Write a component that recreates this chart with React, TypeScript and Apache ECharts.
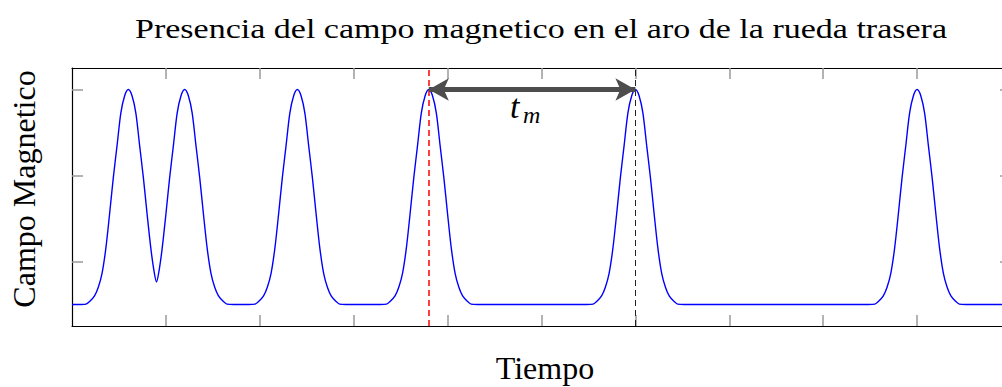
import React, { useEffect, useRef } from "react";
import * as echarts from "echarts";

// Tick positions (no tick labels are printed)
const tiempoTicks = [1, 2, 3, 4, 5, 6, 7, 8, 9];
const campoTicks = [0.2, 0.6, 1.0];

// Sensor signal: flat baseline with magnetic pulses, [tiempo, campo]
const reposoInicial: [number, number][] = [[0, 0], [0.1, 0]];
const pulsoDoble: [number, number][] = [
  [0.15, 0.002], [0.19, 0.015], [0.24, 0.04], [0.28, 0.08], [0.32, 0.145], [0.36, 0.26],
  [0.40, 0.42], [0.44, 0.59], [0.48, 0.74], [0.52, 0.89], [0.56, 0.97], [0.60, 1.0],
  [0.64, 0.97], [0.68, 0.89], [0.72, 0.74], [0.76, 0.59], [0.80, 0.42], [0.84, 0.26],
  [0.87, 0.165], [0.90, 0.105], [0.93, 0.165], [0.96, 0.26], [1.00, 0.42], [1.04, 0.59],
  [1.08, 0.74], [1.12, 0.89], [1.16, 0.97], [1.20, 1.0], [1.24, 0.97], [1.28, 0.89],
  [1.32, 0.74], [1.36, 0.59], [1.40, 0.42], [1.44, 0.26], [1.48, 0.145], [1.52, 0.08],
  [1.56, 0.04], [1.61, 0.015], [1.65, 0.002], [1.72, 0],
];
const pulso2: [number, number][] = [
  [1.88, 0], [1.95, 0.002], [1.99, 0.015], [2.04, 0.04], [2.08, 0.08], [2.12, 0.145],
  [2.16, 0.26], [2.20, 0.42], [2.24, 0.59], [2.28, 0.74], [2.32, 0.89], [2.36, 0.97],
  [2.40, 1.0], [2.44, 0.97], [2.48, 0.89], [2.52, 0.74], [2.56, 0.59], [2.60, 0.42],
  [2.64, 0.26], [2.68, 0.145], [2.72, 0.08], [2.76, 0.04], [2.81, 0.015], [2.85, 0.002],
  [2.92, 0],
];
const pulso3: [number, number][] = [
  [3.28, 0], [3.35, 0.002], [3.39, 0.015], [3.44, 0.04], [3.48, 0.08], [3.52, 0.145],
  [3.56, 0.26], [3.60, 0.42], [3.64, 0.59], [3.68, 0.74], [3.72, 0.89], [3.76, 0.97],
  [3.80, 1.0], [3.84, 0.97], [3.88, 0.89], [3.92, 0.74], [3.96, 0.59], [4.00, 0.42],
  [4.04, 0.26], [4.08, 0.145], [4.12, 0.08], [4.16, 0.04], [4.21, 0.015], [4.25, 0.002],
  [4.32, 0],
];
const pulso4: [number, number][] = [
  [5.48, 0], [5.55, 0.002], [5.59, 0.015], [5.64, 0.04], [5.68, 0.08], [5.72, 0.145],
  [5.76, 0.26], [5.80, 0.42], [5.84, 0.59], [5.88, 0.74], [5.92, 0.89], [5.96, 0.97],
  [6.00, 1.0], [6.04, 0.97], [6.08, 0.89], [6.12, 0.74], [6.16, 0.59], [6.20, 0.42],
  [6.24, 0.26], [6.28, 0.145], [6.32, 0.08], [6.36, 0.04], [6.41, 0.015], [6.45, 0.002],
  [6.52, 0],
];
const pulso5: [number, number][] = [
  [8.48, 0], [8.55, 0.002], [8.59, 0.015], [8.64, 0.04], [8.68, 0.08], [8.72, 0.145],
  [8.76, 0.26], [8.80, 0.42], [8.84, 0.59], [8.88, 0.74], [8.92, 0.89], [8.96, 0.97],
  [9.00, 1.0], [9.04, 0.97], [9.08, 0.89], [9.12, 0.74], [9.16, 0.59], [9.20, 0.42],
  [9.24, 0.26], [9.28, 0.145], [9.32, 0.08], [9.36, 0.04], [9.41, 0.015], [9.45, 0.002],
  [9.52, 0],
];
const reposoFinal: [number, number][] = [[10, 0]];

// Time between two consecutive pulses (t_m)
const tInicio = 3.8;
const tFin = 6.0;
const campoPico = 1.0;

const SERIF = "Liberation Serif";

export default function App() {
  const ref = useRef<HTMLDivElement>(null);

  useEffect(() => {
    document.body.style.margin = "0";
    const chart = echarts.init(ref.current!, null, { renderer: "svg" });

    const senal = [
      ...reposoInicial,
      ...pulsoDoble,
      ...pulso2,
      ...pulso3,
      ...pulso4,
      ...pulso5,
      ...reposoFinal,
    ];

    const frameAxis = (position: string, ticks: number[]) => ({
      type: "value",
      position,
      axisLine: { show: true, onZero: false, lineStyle: { color: "#000", width: 1.2 } },
      axisTick: {
        show: true,
        inside: true,
        length: 11,
        customValues: ticks,
        lineStyle: { color: "#9a9a9a", width: 1.5 },
      },
      axisLabel: { show: false },
      splitLine: { show: false },
    });

    const label = (
      text: string,
      x: number,
      y: number,
      size: number,
      extra: Record<string, unknown> = {},
      italic = false
    ) => ({
      type: "text",
      x,
      y,
      ...extra,
      style: {
        text,
        fontFamily: SERIF,
        fontSize: size,
        fontStyle: italic ? "italic" : "normal",
        fontWeight: "normal",
        fill: "#000",
        align: extra.align ?? "center",
        verticalAlign: "middle",
      },
    });

    chart.setOption({
      animation: false,
      backgroundColor: "#fff",
      grid: { left: 72, top: 68, width: 939, height: 258, containLabel: false },
      xAxis: [
        { ...frameAxis("bottom", tiempoTicks), min: 0, max: 10 },
        { ...frameAxis("top", tiempoTicks), min: 0, max: 10 },
      ],
      yAxis: [
        { ...frameAxis("left", campoTicks), min: -0.1, max: 1.1 },
        { ...frameAxis("right", campoTicks), min: -0.1, max: 1.1 },
      ],
      graphic: [
        label("Presencia del campo magnetico en el aro de la rueda trasera", 541, 29, 27, { scaleX: 1.26 }),
        label("Tiempo", 545, 368, 32),
        label("Campo Magnetico", 24, 189, 32, { rotation: Math.PI / 2 }),
        label("t", 510, 106.5, 34, { align: "left" }, true),
        label("m", 523, 115, 24, { align: "left" }, true),
      ],
      series: [
        {
          type: "line",
          data: senal,
          showSymbol: false,
          smooth: 0.3,
          clip: true,
          lineStyle: { color: "#0000ff", width: 1.4 },
          z: 3,
          markLine: {
            silent: true,
            symbol: "none",
            label: { show: false },
            data: [
              { xAxis: tInicio, lineStyle: { color: "#ff0000", opacity: 1, type: [6, 4], width: 1.5 } },
              { xAxis: tFin, lineStyle: { color: "#222", opacity: 1, type: [6, 4], width: 1 } },
              [
                {
                  coord: [tInicio, campoPico],
                  symbol: "arrow",
                  symbolSize: [17, 20],
                  lineStyle: { color: "#4d4d4d", opacity: 1, type: "solid", width: 5 },
                },
                {
                  coord: [tFin, campoPico],
                  symbol: "arrow",
                  symbolSize: [17, 20],
                },
              ],
            ],
          },
        },
      ],
    });

    return () => chart.dispose();
  }, []);

  return (
    <div style={{ width: 1002, height: 387, overflow: "hidden" }}>
      <div ref={ref} style={{ width: 1011, height: 387 }} />
    </div>
  );
}
